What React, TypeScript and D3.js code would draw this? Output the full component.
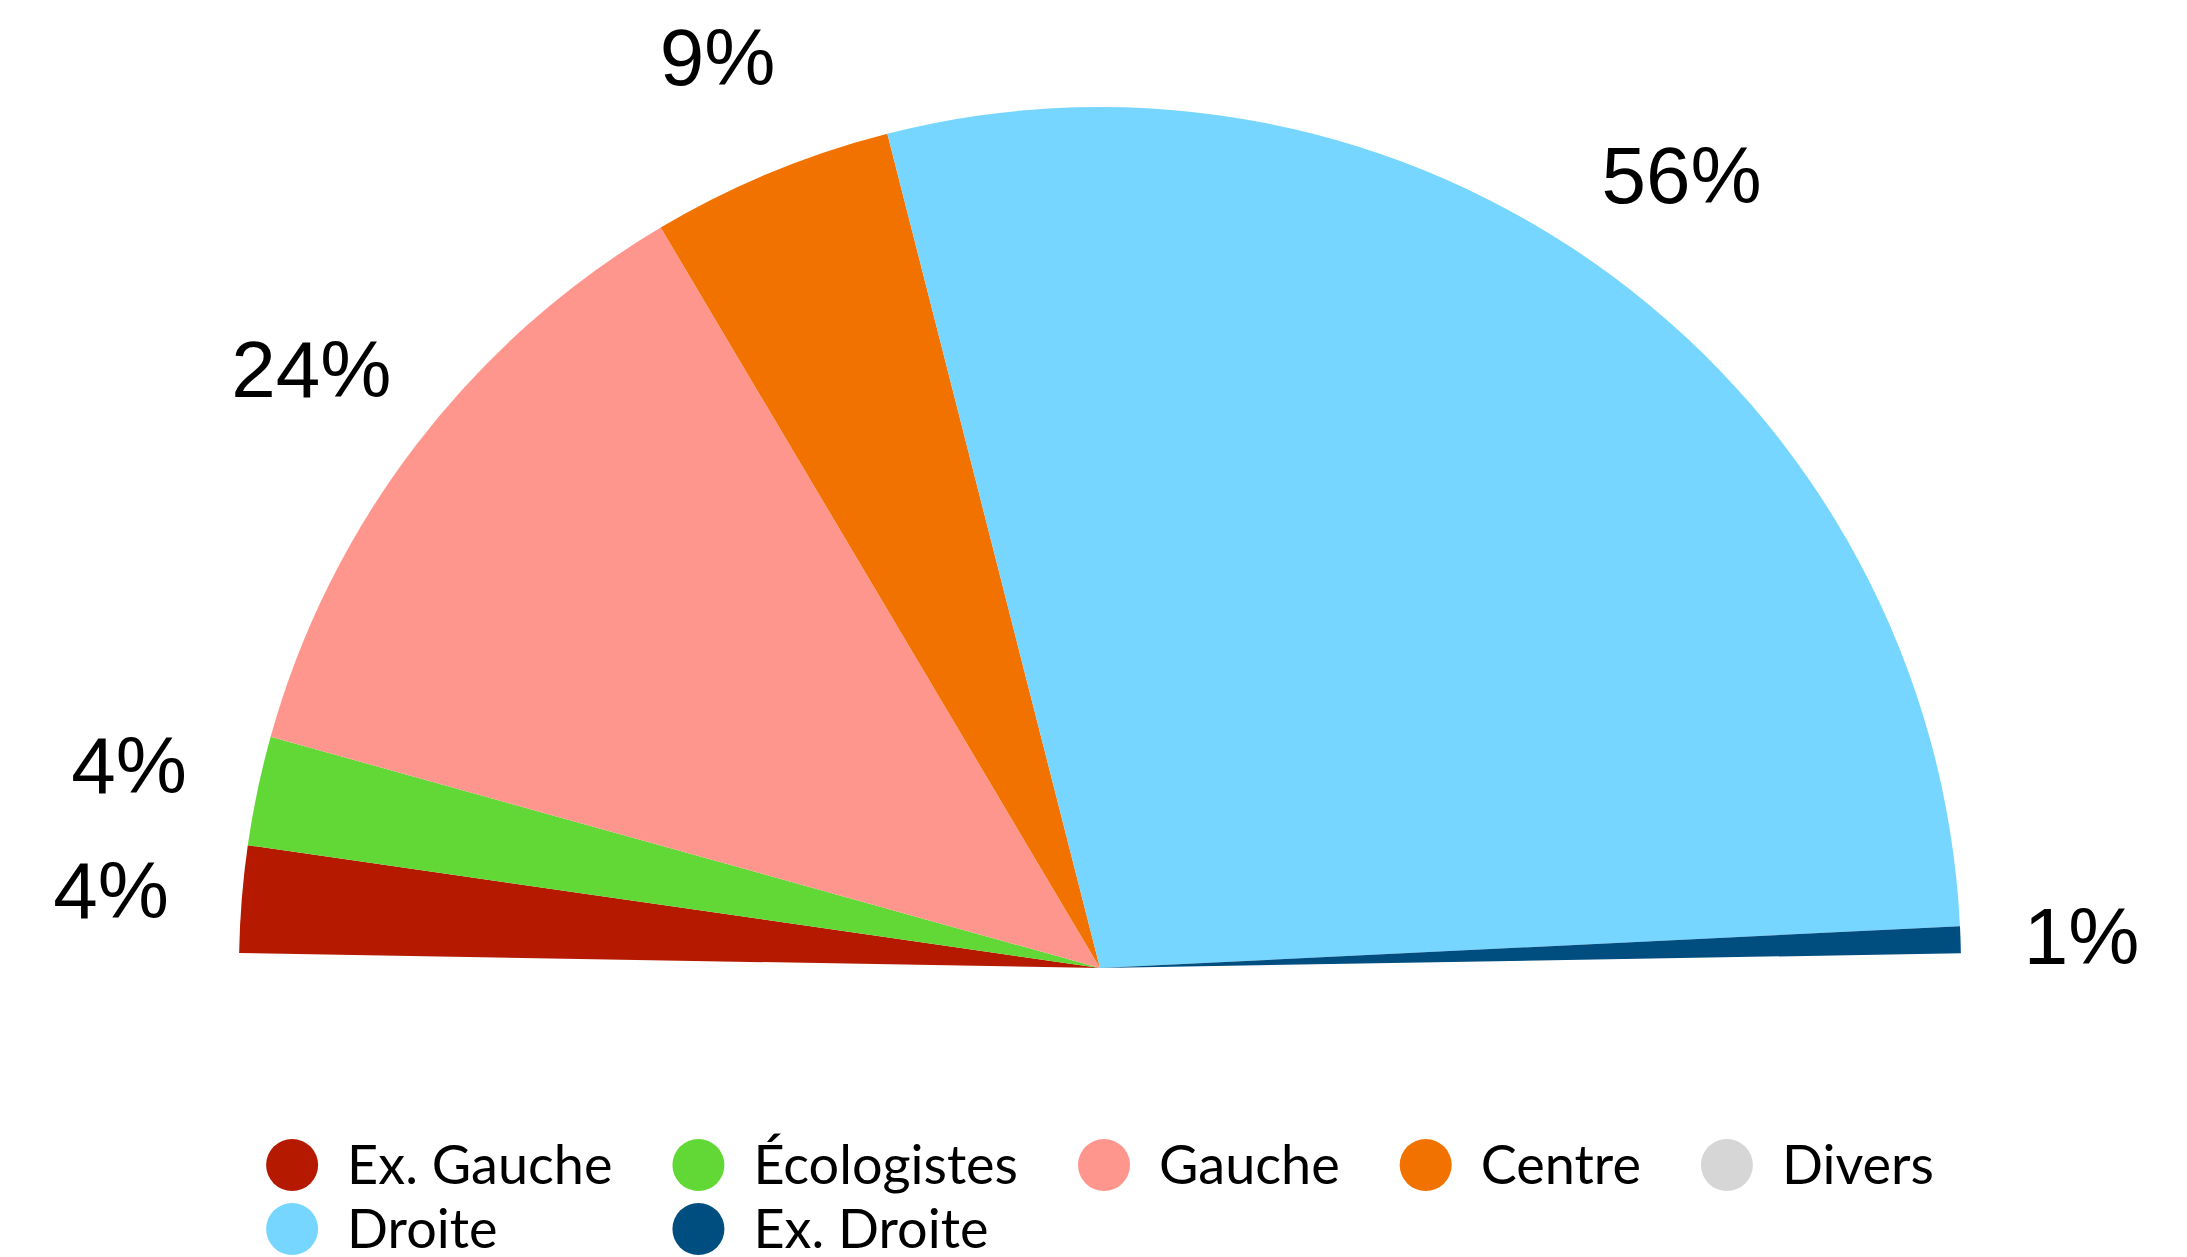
import React, { useEffect, useRef } from "react";
import * as d3 from "d3";

const categories = ["Ex. Gauche", "Écologistes", "Gauche", "Centre", "Divers", "Droite", "Ex. Droite"];
const shares = [4.0, 4.1, 24.3, 9.1, 0, 56.4, 1.0];
const colors = ["#B51A00", "#61D836", "#FF968D", "#F27200", "#D6D6D6", "#76D6FF", "#004D7F"];
const legendRows = [
  ["Ex. Gauche", "Écologistes", "Gauche", "Centre", "Divers"],
  ["Droite", "Ex. Droite"],
];

const W = 2187;
const H = 1257;

export default function App() {
  const ref = useRef<SVGSVGElement | null>(null);

  useEffect(() => {
    document.body.style.margin = "0";
    const svg = d3.select(ref.current);
    svg.selectAll("*").remove();

    const cx = 1100;
    const cy = 968;
    const r = 861;
    const deg = Math.PI / 180;
    const start = -89 * deg;
    const total = d3.sum(shares);
    const data = categories.map((c, i) => ({ name: c, value: shares[i], color: colors[i] }));

    const pie = d3
      .pie<any>()
      .sort(null)
      .value((d) => d.value)
      .startAngle(start)
      .endAngle(start + total * 1.8 * deg);
    const arcs = pie(data);
    const arc = d3.arc<any>().innerRadius(0).outerRadius(r);
    const labelArc = d3.arc<any>().innerRadius(r + 126).outerRadius(r + 126);

    const g = svg.append("g").attr("transform", `translate(${cx},${cy})`);
    g.selectAll("path")
      .data(arcs.filter((a) => a.data.value > 0))
      .join("path")
      .attr("d", arc)
      .attr("fill", (d) => d.data.color);

    g.selectAll("text")
      .data(arcs.filter((a) => a.data.value > 0))
      .join("text")
      .attr("transform", (d) => `translate(${labelArc.centroid(d)})`)
      .attr("text-anchor", "middle")
      .attr("dx", -5)
      .attr("dy", "0.36em")
      .attr("font-family", "'Liberation Sans', Arial, sans-serif")
      .attr("font-size", 80)
      .attr("fill", "#000")
      .text((d) => `${Math.round(d.data.value)}%`);

    // legend
    const fontSize = 54;
    const cr = 26;
    const textGap = 29;
    const itemGap = 60;
    const legend = svg.append("g");
    const measure = legend
      .append("text")
      .attr("font-family", "Lato, sans-serif")
      .attr("font-size", fontSize);
    const widthOf = (s: string) => {
      measure.text(s);
      return (measure.node() as SVGTextElement).getComputedTextLength();
    };
    const nCols = d3.max(legendRows, (row) => row.length) as number;
    const colW: number[] = [];
    for (let c = 0; c < nCols; c++) {
      colW.push(
        d3.max(legendRows, (row) => (row[c] ? 2 * cr + textGap + widthOf(row[c]) : 0)) as number
      );
    }
    measure.remove();
    const totalW = d3.sum(colW) + itemGap * (nCols - 1);
    const x0 = cx - totalW / 2;
    const colX: number[] = [];
    let acc = x0;
    colW.forEach((w) => {
      colX.push(acc);
      acc += w + itemGap;
    });
    const rowY = [1165, 1229];
    legendRows.forEach((row, ri) => {
      row.forEach((name, ci) => {
        const idx = categories.indexOf(name);
        const item = legend.append("g").attr("transform", `translate(${colX[ci]},${rowY[ri]})`);
        item.append("circle").attr("cx", cr).attr("cy", 0).attr("r", cr).attr("fill", colors[idx]);
        item
          .append("text")
          .attr("x", 2 * cr + textGap)
          .attr("dy", "0.36em")
          .attr("font-family", "Lato, sans-serif")
          .attr("font-size", fontSize)
          .attr("fill", "#000")
          .text(name);
      });
    });
  }, []);

  return (
    <svg
      ref={ref}
      width={W}
      height={H}
      style={{ position: "absolute", left: 0, top: 0, background: "#fff" }}
    />
  );
}
